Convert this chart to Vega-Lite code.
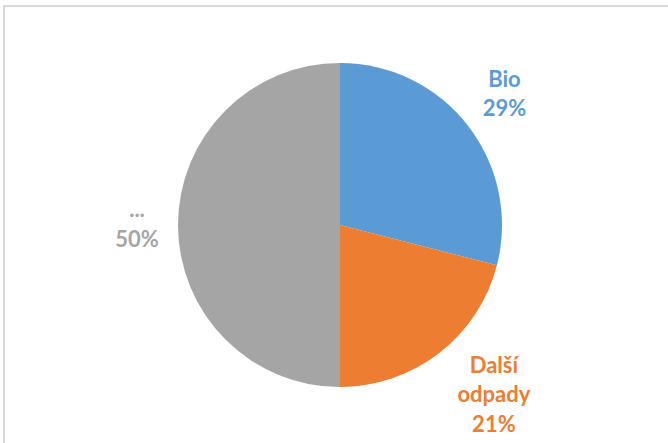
{
  "$schema": "https://vega.github.io/schema/vega-lite/v6.json",
  "width": 672,
  "height": 438,
  "padding": {"left": 4, "top": 6, "right": 0, "bottom": 0},
  "background": "white",
  "view": {"stroke": "#d9d9d9", "strokeWidth": 2},
  "data": {"values": [
    {"label": "Bio", "text": "Bio\n29%", "value": 29, "ord": 1},
    {"label": "Další odpady", "text": "Další\nodpady\n21%", "value": 21, "ord": 2},
    {"label": "...", "text": "...\n50%", "value": 50, "ord": 3}
  ]},
  "encoding": {
    "theta": {"field": "value", "type": "quantitative", "stack": true},
    "order": {"field": "ord", "type": "quantitative"},
    "color": {
      "field": "label", "type": "nominal", "legend": null,
      "scale": {"domain": ["Bio", "Další odpady", "..."], "range": ["#5B9BD5", "#ED7D31", "#A5A5A5"]}
    }
  },
  "layer": [
    {"mark": {"type": "arc", "radius": 162}},
    {
      "mark": {"type": "text", "radius": 212, "dx": -3, "dy": -15, "font": "Lato", "fontWeight": "bold", "fontSize": 22, "lineBreak": "\n", "lineHeight": 29, "baseline": "middle", "align": "center"},
      "encoding": {
        "text": {"field": "text"},
        "opacity": {"condition": {"test": "datum.label === 'Bio'", "value": 1}, "value": 0}
      }
    },
    {
      "mark": {"type": "text", "radius": 225, "dx": 16, "dy": -37, "font": "Lato", "fontWeight": "bold", "fontSize": 22, "lineBreak": "\n", "lineHeight": 29.5, "baseline": "middle", "align": "center"},
      "encoding": {
        "text": {"field": "text"},
        "opacity": {"condition": {"test": "datum.label === 'Další odpady'", "value": 1}, "value": 0}
      }
    },
    {
      "mark": {"type": "text", "radius": 203, "dy": -15, "font": "Lato", "fontWeight": "bold", "fontSize": 22, "lineBreak": "\n", "lineHeight": 30, "baseline": "middle", "align": "center"},
      "encoding": {
        "text": {"field": "text"},
        "opacity": {"condition": {"test": "datum.label === '...'", "value": 1}, "value": 0}
      }
    }
  ]
}
